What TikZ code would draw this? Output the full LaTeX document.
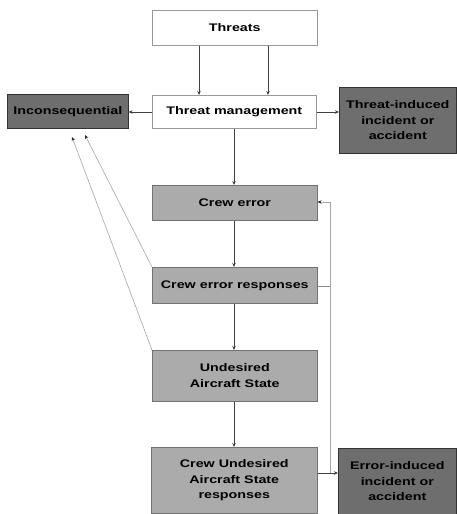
\documentclass[tikz,border=0pt]{standalone}
\usepackage{fontspec}
\setmainfont{Liberation Sans}[FakeStretch=1.3]
\usetikzlibrary{arrows.meta}
\begin{document}
\begin{tikzpicture}[x=1pt,y=-1pt,
  lbl/.style={font=\fontsize{11}{15.5}\selectfont\bfseries, align=center, inner sep=0pt, anchor=north west},
  whitebox/.style={lbl, fill=white, draw=black!40, line width=0.6pt},
  greybox/.style={lbl, fill=black!33, draw=black!55, line width=0.6pt},
  darkbox/.style={lbl, fill=black!57, draw=black!80, line width=0.6pt},
  flow/.style={draw=black!75, line width=0.8pt, -{Stealth[length=4pt,width=3.5pt]}},
  loopline/.style={draw=black!45, line width=0.6pt},
  backline/.style={draw=black!35, line width=0.6pt, -{Stealth[length=4pt,width=3.5pt,color=black!85]}}
]
\useasboundingbox (0,0) rectangle (456,514);

% boxes
\node[whitebox, minimum width=165pt, minimum height=35pt] (threats) at (152,10) {Threats};
\node[whitebox, minimum width=164pt, minimum height=33pt] (tm) at (152,95) {Threat management};
\node[darkbox, minimum width=121pt, minimum height=34pt] (inc) at (7,94) {Inconsequential};
\node[darkbox, minimum width=117pt, minimum height=66pt] (tii) at (339,87) {Threat-induced\\incident or\\accident};
\node[greybox, minimum width=165pt, minimum height=35pt] (ce) at (152,185) {Crew error};
\node[greybox, minimum width=165pt, minimum height=36pt] (cer) at (152,267) {Crew error responses};
\node[greybox, minimum width=165pt, minimum height=51pt] (uas) at (152,350) {Undesired\\Aircraft State};
\node[greybox, minimum width=166pt, minimum height=66pt] (cuas) at (151,447) {Crew Undesired\\Aircraft State\\responses};
\node[darkbox, minimum width=118pt, minimum height=66pt] (eii) at (338,448) {Error-induced\\incident or\\accident};

% feedback junctions
\coordinate (fbtop) at (330,202);
\coordinate (fbbot) at (330,473);
\coordinate (fbmid) at (330,286);

% main flow
\draw[flow] (threats.south -| 199,0) -- (tm.north -| 199,0);
\draw[flow] (threats.south -| 268,0) -- (tm.north -| 268,0);
\draw[flow] (tm.west |- 0,112) -- (inc.east |- 0,112);
\draw[flow] (tm.east |- 0,112) -- (tii.west |- 0,112);
\draw[flow] (tm.south -| 234,0) -- (ce.north -| 234,0);
\draw[flow] (ce.south -| 234,0) -- (cer.north -| 234,0);
\draw[flow] (cer.south -| 234,0) -- (uas.north -| 234,0);
\draw[flow] (uas.south -| 234,0) -- (cuas.north -| 234,0);
\draw[flow] (cuas.east |- fbbot) -- (eii.west |- fbbot);

% loop back to crew error
\draw[loopline] (cer.east |- fbmid) -- (fbmid);
\draw[backline] (fbbot) -- (fbtop) -- (ce.east |- fbtop);

% paths to inconsequential
\draw[backline] (cer.north west) -- (85,135);
\draw[backline] (uas.north west) -- (72,137);
\end{tikzpicture}
\end{document}
